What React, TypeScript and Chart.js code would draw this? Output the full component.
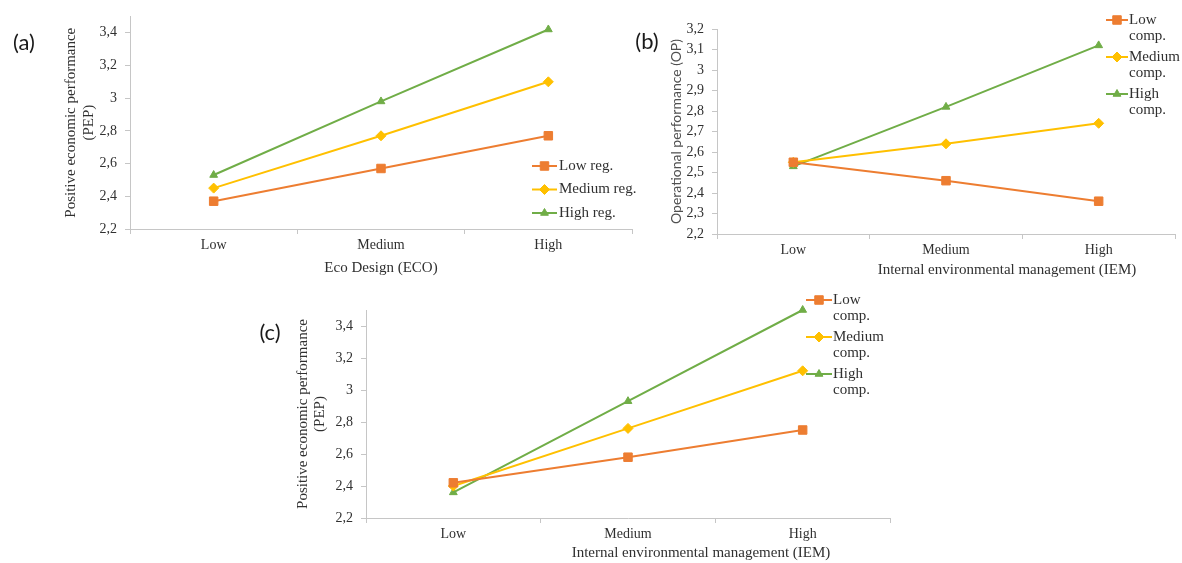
import React, { useEffect, useRef } from "react";
import { Chart, registerables } from "chart.js";

Chart.register(...registerables);

// ---------- data ----------
const categories = ["Low", "Medium", "High"];

const aSeriesLabels = ["Low reg.", "Medium reg.", "High reg."];
const aLow = [2.37, 2.57, 2.77];
const aMedium = [2.45, 2.77, 3.1];
const aHigh = [2.53, 2.98, 3.42];
const aTickValues = [2.2, 2.4, 2.6, 2.8, 3.0, 3.2, 3.4];

const bSeriesLabels = ["Low comp.", "Medium comp.", "High comp."];
const bLow = [2.55, 2.46, 2.36];
const bMedium = [2.55, 2.64, 2.74];
const bHigh = [2.53, 2.82, 3.12];
const bTickValues = [2.2, 2.3, 2.4, 2.5, 2.6, 2.7, 2.8, 2.9, 3.0, 3.1, 3.2];

const cSeriesLabels = ["Low comp.", "Medium comp.", "High comp."];
const cLow = [2.42, 2.58, 2.75];
const cMedium = [2.4, 2.76, 3.12];
const cHigh = [2.36, 2.93, 3.5];
const cTickValues = [2.2, 2.4, 2.6, 2.8, 3.0, 3.2, 3.4];

// ---------- styles ----------
const PAGE_W = 1182;
const PAGE_H = 563;
const ORANGE = "#ED7D31";
const GOLD = "#FFC000";
const GREEN = "#70AD47";
const AXIS = "#c6c6c6";
const TEXT = "#303030";
const SERIF = "'Liberation Serif', 'Times New Roman', serif";
const SANS = "Lato, 'Noto Sans', sans-serif";
const YW = 40; // y-axis box width
const XH = 30; // x-axis box height

const STYLES = [
  { color: ORANGE, pointStyle: "rect", radius: 6 },
  { color: GOLD, pointStyle: "rectRot", radius: 5 },
  { color: GREEN, pointStyle: "triangle", radius: 4.5 },
];

function fmt(v: number) {
  const r = Math.round(v * 10) / 10;
  return String(r).replace(".", ",");
}

function drawMarker(ctx: CanvasRenderingContext2D, style: string, x: number, y: number, r: number, color: string) {
  ctx.save();
  ctx.fillStyle = color;
  ctx.strokeStyle = color;
  ctx.lineWidth = 1;
  ctx.beginPath();
  if (style === "rect") {
    const s = r * Math.SQRT1_2;
    ctx.rect(x - s, y - s, 2 * s, 2 * s);
  } else if (style === "rectRot") {
    ctx.moveTo(x - r, y);
    ctx.lineTo(x, y - r);
    ctx.lineTo(x + r, y);
    ctx.lineTo(x, y + r);
    ctx.closePath();
  } else {
    let rad = 0;
    ctx.moveTo(x + Math.sin(rad) * r, y - Math.cos(rad) * r);
    rad += (2 * Math.PI) / 3;
    ctx.lineTo(x + Math.sin(rad) * r, y - Math.cos(rad) * r);
    rad += (2 * Math.PI) / 3;
    ctx.lineTo(x + Math.sin(rad) * r, y - Math.cos(rad) * r);
    ctx.closePath();
  }
  ctx.fill();
  ctx.stroke();
  ctx.restore();
}

const overlayPlugin = {
  id: "overlay",
  afterDraw(chart: any, _args: any, opts: any) {
    const ctx: CanvasRenderingContext2D = chart.ctx;
    const ca = chart.chartArea;
    ctx.save();
    ctx.textAlign = "center";
    ctx.textBaseline = "middle";
    // panel label
    if (opts.panel) {
      ctx.fillStyle = "#1a1a1a";
      ctx.font = `22px ${SANS}`;
      ctx.fillText(opts.panel.text, opts.panel.x, opts.panel.y);
    }
    // x title
    if (opts.xTitle) {
      ctx.fillStyle = TEXT;
      ctx.font = opts.xTitle.font;
      ctx.fillText(opts.xTitle.text, opts.xTitle.x, opts.xTitle.y);
    }
    // y title
    if (opts.yTitle) {
      const cy = (ca.top + ca.bottom) / 2;
      ctx.fillStyle = opts.yTitle.color || TEXT;
      ctx.font = opts.yTitle.font;
      opts.yTitle.lines.forEach((t: string, i: number) => {
        ctx.save();
        ctx.translate(opts.yTitle.xs[i], cy);
        ctx.rotate(-Math.PI / 2);
        ctx.fillText(t, 0, 0);
        ctx.restore();
      });
    }
    // legend
    if (opts.legend) {
      const lg = opts.legend;
      ctx.textAlign = "left";
      ctx.font = `15px ${SERIF}`;
      chart.data.datasets.forEach((ds: any, i: number) => {
        const st = STYLES[i];
        const y = lg.y + i * lg.rowGap;
        ctx.strokeStyle = st.color;
        ctx.lineWidth = 2;
        ctx.beginPath();
        ctx.moveTo(lg.x0, y);
        ctx.lineTo(lg.x1, y);
        ctx.stroke();
        drawMarker(ctx, st.pointStyle, (lg.x0 + lg.x1) / 2, y, st.radius, st.color);
        ctx.fillStyle = TEXT;
        const lines = lg.wrap ? String(ds.label).split(" ") : [String(ds.label)];
        lines.forEach((t: string, k: number) => {
          ctx.fillText(t, lg.tx, y + k * lg.lineGap);
        });
      });
    }
    ctx.restore();
  },
};

function makeConfig(p: any) {
  const series = [p.low, p.medium, p.high];
  return {
    type: "line",
    data: {
      labels: categories,
      datasets: series.map((d: number[], i: number) => ({
        label: p.labels[i],
        data: d,
        borderColor: STYLES[i].color,
        backgroundColor: STYLES[i].color,
        pointBackgroundColor: STYLES[i].color,
        pointBorderColor: STYLES[i].color,
        pointStyle: STYLES[i].pointStyle,
        pointRadius: STYLES[i].radius,
        pointBorderWidth: 1,
        borderWidth: 2,
        tension: 0,
        fill: false,
        clip: false,
      })),
    },
    options: {
      animation: false,
      responsive: false,
      events: [],
      layout: {
        padding: {
          left: p.area.left - YW,
          top: p.area.top,
          right: PAGE_W - p.area.right,
          bottom: PAGE_H - p.area.bottom - XH,
        },
      },
      plugins: {
        legend: { display: false },
        tooltip: { enabled: false },
        title: { display: false },
        overlay: p.overlay,
      },
      scales: {
        x: {
          type: "category",
          offset: true,
          grid: { offset: true, drawOnChartArea: false, drawTicks: true, tickLength: 5, color: AXIS },
          border: { color: AXIS, width: 1 },
          ticks: { font: { family: SERIF, size: 14 }, color: TEXT, padding: 3, maxRotation: 0, autoSkip: false },
          afterFit: (s: any) => {
            s.height = XH;
          },
        },
        y: {
          type: "linear",
          min: p.min,
          max: p.max,
          afterBuildTicks: (s: any) => {
            s.ticks = p.ticks.map((v: number) => ({ value: v }));
          },
          grid: { drawOnChartArea: false, drawTicks: true, tickLength: 5, color: AXIS },
          border: { color: AXIS, width: 1 },
          ticks: {
            font: { family: SERIF, size: 14 },
            color: TEXT,
            padding: 8,
            callback: (v: any) => fmt(Number(v)),
          },
          afterFit: (s: any) => {
            s.width = YW;
          },
        },
      },
    },
    plugins: [overlayPlugin],
  };
}

const configs = [
  () =>
    makeConfig({
      labels: aSeriesLabels,
      low: aLow,
      medium: aMedium,
      high: aHigh,
      ticks: aTickValues,
      min: 2.2,
      max: 3.5,
      area: { left: 130, right: 632, top: 12, bottom: 229 },
      overlay: {
        panel: { text: "(a)", x: 24, y: 43 },
        xTitle: { text: "Eco Design (ECO)", x: 381, y: 268, font: `15px ${SERIF}` },
        yTitle: { lines: ["Positive economic performance", "(PEP)"], xs: [71, 89], font: `15px ${SERIF}` },
        legend: { x0: 532, x1: 557, tx: 559, y: 166, rowGap: 23.5, lineGap: 16, wrap: false },
      },
    }),
  () =>
    makeConfig({
      labels: bSeriesLabels,
      low: bLow,
      medium: bMedium,
      high: bHigh,
      ticks: bTickValues,
      min: 2.2,
      max: 3.2,
      area: { left: 717, right: 1180, top: 29, bottom: 234 },
      overlay: {
        panel: { text: "(b)", x: 647, y: 42 },
        xTitle: { text: "Internal environmental management (IEM)", x: 1007, y: 270, font: `15px ${SERIF}` },
        yTitle: { lines: ["Operational performance (OP)"], xs: [676], font: `14px ${SANS}`, color: "#505050" },
        legend: { x0: 1106, x1: 1128, tx: 1129, y: 20, rowGap: 37, lineGap: 16, wrap: true },
      },
    }),
  () =>
    makeConfig({
      labels: cSeriesLabels,
      low: cLow,
      medium: cMedium,
      high: cHigh,
      ticks: cTickValues,
      min: 2.2,
      max: 3.5,
      area: { left: 366, right: 890, top: 310, bottom: 518 },
      overlay: {
        panel: { text: "(c)", x: 270, y: 333 },
        xTitle: { text: "Internal environmental management (IEM)", x: 701, y: 553, font: `15px ${SERIF}` },
        yTitle: { lines: ["Positive economic performance", "(PEP)"], xs: [303, 320], font: `15px ${SERIF}` },
        legend: { x0: 806, x1: 832, tx: 833, y: 300, rowGap: 37, lineGap: 16, wrap: true },
      },
    }),
];

function ChartLayer({ make }: { make: () => any }) {
  const ref = useRef<HTMLCanvasElement>(null);
  useEffect(() => {
    if (!ref.current) return;
    const chart = new Chart(ref.current, make());
    return () => chart.destroy();
  }, [make]);
  return (
    <canvas
      ref={ref}
      width={PAGE_W}
      height={PAGE_H}
      style={{ position: "absolute", left: 0, top: 0, width: PAGE_W, height: PAGE_H }}
    />
  );
}

export default function App() {
  return (
    <div
      style={{
        position: "absolute",
        left: 0,
        top: 0,
        width: PAGE_W,
        height: PAGE_H,
        background: "#ffffff",
        overflow: "hidden",
      }}
    >
      {configs.map((m, i) => (
        <ChartLayer key={i} make={m} />
      ))}
    </div>
  );
}
